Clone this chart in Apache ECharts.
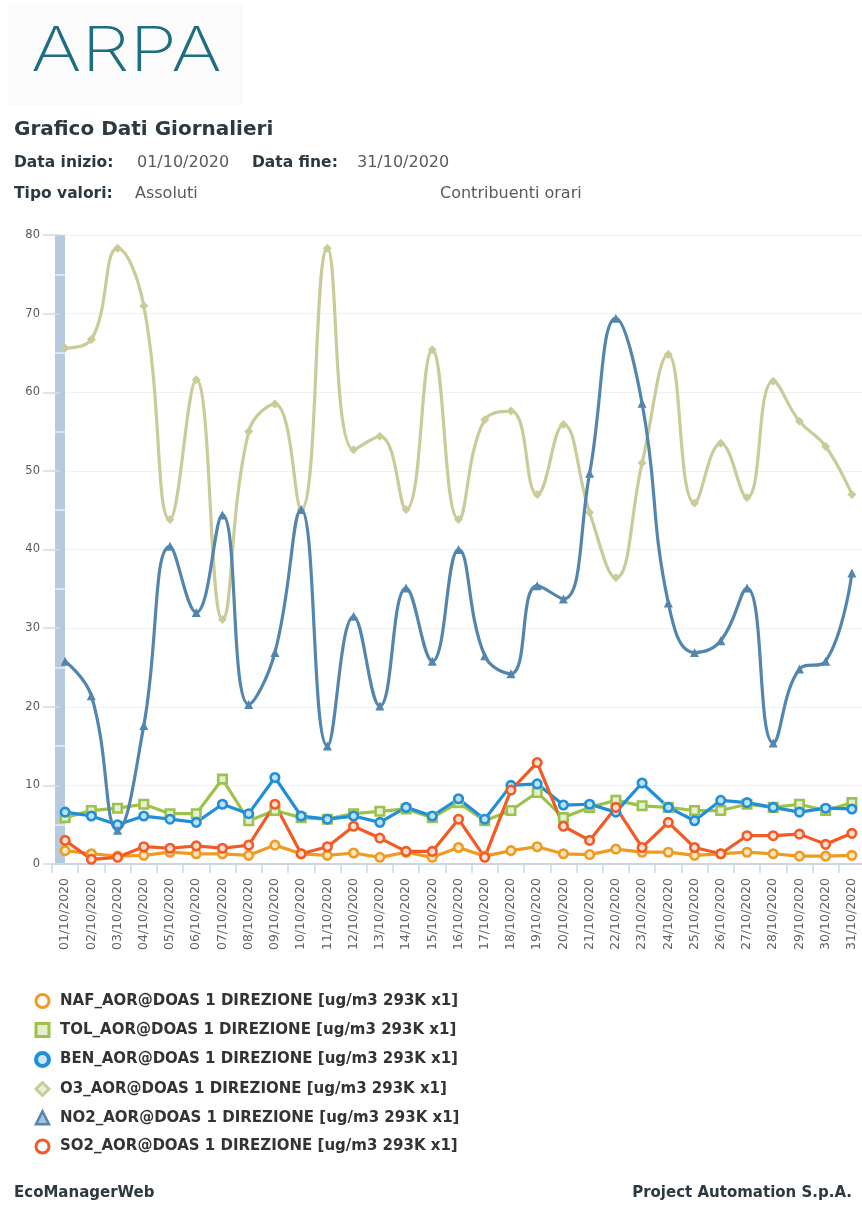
<!DOCTYPE html>
<html>
<head>
<meta charset="utf-8">
<script src="https://cdn.jsdelivr.net/npm/echarts@6/dist/echarts.min.js"></script>
<style>
html,body{margin:0;padding:0;background:#fff;overflow:hidden;}
#c{width:870px;height:1205px;}
</style>
</head>
<body>
<div id="c"></div>
<script>
const categories = ['01/10/2020','02/10/2020','03/10/2020','04/10/2020','05/10/2020','06/10/2020','07/10/2020','08/10/2020','09/10/2020','10/10/2020',
  '11/10/2020','12/10/2020','13/10/2020','14/10/2020','15/10/2020','16/10/2020','17/10/2020','18/10/2020','19/10/2020','20/10/2020',
  '21/10/2020','22/10/2020','23/10/2020','24/10/2020','25/10/2020','26/10/2020','27/10/2020','28/10/2020','29/10/2020','30/10/2020','31/10/2020'];

const NAF = [1.7,1.3,1.0,1.1,1.5,1.3,1.3,1.1,2.4,1.3, 1.1,1.4,0.85,1.5,0.85,2.1,1.0,1.7,2.2,1.3, 1.2,1.9,1.5,1.5,1.1,1.3,1.5,1.3,1.0,1.0,1.1];
const TOL = [5.9,6.8,7.1,7.6,6.4,6.4,10.8,5.5,6.8,5.9, 5.7,6.4,6.7,7.0,5.9,7.8,5.5,6.8,9.1,5.9, 7.2,8.1,7.4,7.2,6.8,6.8,7.6,7.2,7.6,6.8,7.8];
const BEN = [6.6,6.1,5.0,6.1,5.7,5.3,7.6,6.4,11.0,6.1, 5.7,6.1,5.3,7.2,6.1,8.3,5.7,10.0,10.2,7.5, 7.6,6.6,10.3,7.2,5.5,8.1,7.8,7.2,6.6,7.1,7.0];
const O3  = [65.6,66.7,78.3,71.0,43.8,61.6,31.1,55.0,58.5,45.1, 78.3,52.7,54.4,45.1,65.4,43.8,56.5,57.6,47.0,55.9, 44.7,36.4,51.0,64.8,45.9,53.5,46.6,61.4,56.3,53.1,47.0];
const NO2 = [25.8,21.4,4.3,17.6,40.4,32.0,44.4,20.3,26.9,45.1, 15.0,31.5,20.1,35.1,25.8,40.0,26.5,24.2,35.4,33.7, 49.7,69.4,58.6,33.2,26.9,28.4,35.1,15.4,24.8,25.8,37.0];
const SO2 = [3.0,0.6,0.85,2.2,2.0,2.3,2.0,2.4,7.6,1.3, 2.2,4.8,3.3,1.6,1.6,5.7,0.85,9.4,12.9,4.8, 3.0,7.2,2.1,5.3,2.1,1.3,3.6,3.6,3.8,2.5,3.9];

const seriesNames = [
  'NAF_AOR@DOAS 1 DIREZIONE [ug/m3 293K x1]',
  'TOL_AOR@DOAS 1 DIREZIONE [ug/m3 293K x1]',
  'BEN_AOR@DOAS 1 DIREZIONE [ug/m3 293K x1]',
  'O3_AOR@DOAS 1 DIREZIONE [ug/m3 293K x1]',
  'NO2_AOR@DOAS 1 DIREZIONE [ug/m3 293K x1]',
  'SO2_AOR@DOAS 1 DIREZIONE [ug/m3 293K x1]'
];
const minorTickValues = [5,15,25,35,45,55,65,75];

const C = {
  naf:'#ef9b22', tol:'#9dc24c', ben:'#1f8fd8', o3:'#c9cc99', no2:'#5286ae', so2:'#f25a26'
};
const FONT = 'DejaVu Sans';

const chart = echarts.init(document.getElementById('c'), null, {renderer:'canvas'});

function lowSeries(name, data, color, symbol, fill) {
  return {
    name, type:'line', data, symbol, symbolSize: 8.5,
    lineStyle:{color, width:3.2},
    itemStyle:{color: fill, borderColor: color, borderWidth: 2.6},
    emphasis:{disabled:true}, z: 3
  };
}

const option = {
  animation:false,
  backgroundColor:'#ffffff',
  textStyle:{fontFamily: FONT},
  grid:{left:52, right:5, top:235, height:629, containLabel:false},
  xAxis:{
    type:'category', data: categories, boundaryGap:true,
    axisLine:{show:true, lineStyle:{color:'#cdd6e0', width:2}},
    axisTick:{show:true, length:9, lineStyle:{color:'#cdd6e0', width:1.5}},
    axisLabel:{rotate:90, fontSize:12.5, color:'#606060', margin:14, interval:0, fontFamily: FONT},
    splitLine:{show:false}
  },
  yAxis:[{
    type:'value', min:0, max:80, interval:10, offset:-8,
    axisLine:{show:true, lineStyle:{color:'#b6cadf', width:10, cap:'butt'}},
    axisTick:{show:true, length:17, lineStyle:{color:'#d3dce6', width:1.5}},
    axisLabel:{fontSize:11.5, color:'#5a5a5a', margin:20, fontFamily: FONT},
    splitLine:{show:true, lineStyle:{color:'#f1f1f1', width:1}}
  },{
    type:'value', min:0, max:80, interval:10, offset:-3, position:'left',
    axisLine:{show:false},
    axisTick:{show:true, inside:true, length:10, customValues:minorTickValues, lineStyle:{color:'#e6eef6', width:1.5}},
    axisLabel:{show:false},
    splitLine:{show:false}
  }],
  legend:{
    orient:'vertical', left:29, top:988, itemGap:13, itemWidth:13, itemHeight:13,
    selectedMode:false,
    textStyle:{fontFamily: FONT, fontWeight:'bold', fontSize:15, color:'#333', padding:[0,0,0,6]},
    data:[
      {name:seriesNames[0], icon:'circle', itemStyle:{color:'#fff', borderColor:C.naf, borderWidth:3}},
      {name:seriesNames[1], icon:'rect', itemStyle:{color:'#e3efcf', borderColor:C.tol, borderWidth:3}},
      {name:seriesNames[2], icon:'circle', itemStyle:{color:'#cfe5f6', borderColor:C.ben, borderWidth:4}},
      {name:seriesNames[3], icon:'diamond', itemStyle:{color:'#eceedd', borderColor:C.o3, borderWidth:3}},
      {name:seriesNames[4], icon:'triangle', itemStyle:{color:'#a8c2d8', borderColor:C.no2, borderWidth:2.5}},
      {name:seriesNames[5], icon:'circle', itemStyle:{color:'#fff', borderColor:C.so2, borderWidth:3}}
    ]
  },
  series:[
    lowSeries(seriesNames[0], NAF, C.naf, 'circle', '#fbe6c4'),
    lowSeries(seriesNames[1], TOL, C.tol, 'rect', '#e6f0d4'),
    lowSeries(seriesNames[2], BEN, C.ben, 'circle', '#bfe0f6'),
    {
      name: seriesNames[3], type:'line', data:O3, smooth:0.45, symbol:'diamond', symbolSize:9,
      lineStyle:{color:C.o3, width:3.2}, itemStyle:{color:C.o3}, emphasis:{disabled:true}, z:2
    },
    {
      name: seriesNames[4], type:'line', data:NO2, smooth:0.45, symbol:'triangle', symbolSize:9,
      lineStyle:{color:C.no2, width:3.2}, itemStyle:{color:C.no2}, emphasis:{disabled:true}, z:3
    },
    lowSeries(seriesNames[5], SO2, C.so2, 'circle', '#fde0d4')
  ],
  graphic:[
    {type:'rect', left:8, top:4, shape:{width:235, height:102}, style:{fill:'#fbfbfb'}, silent:true},
    {type:'text', x:31, y:21, scaleX:1.24, scaleY:1.0, style:{text:'ARPA', font:'200 62px Inter', fill:'#1f6d80'}},
    {type:'text', left:14, top:120, style:{text:'Grafico Dati Giornalieri', font:'bold 20px "DejaVu Sans"', fill:'#2c3940'}},
    {type:'text', left:14, top:155, style:{text:'Data inizio:', font:'bold 15.5px "DejaVu Sans"', fill:'#2c3940'}},
    {type:'text', left:137, top:155, style:{text:'01/10/2020', font:'16px "DejaVu Sans"', fill:'#5a5a5a'}},
    {type:'text', left:252, top:155, style:{text:'Data fine:', font:'bold 15.5px "DejaVu Sans"', fill:'#2c3940'}},
    {type:'text', left:357, top:155, style:{text:'31/10/2020', font:'16px "DejaVu Sans"', fill:'#5a5a5a'}},
    {type:'text', left:14, top:186, style:{text:'Tipo valori:', font:'bold 15.5px "DejaVu Sans"', fill:'#2c3940'}},
    {type:'text', left:135, top:186, style:{text:'Assoluti', font:'16px "DejaVu Sans"', fill:'#5a5a5a'}},
    {type:'text', left:440, top:186, style:{text:'Contribuenti orari', font:'16px "DejaVu Sans"', fill:'#5a5a5a'}},
    {type:'text', left:14, top:1186, style:{text:'EcoManagerWeb', font:'bold 15px "DejaVu Sans"', fill:'#2c3940'}},
    {type:'text', right:18, top:1186, style:{text:'Project Automation S.p.A.', font:'bold 15px "DejaVu Sans"', fill:'#2c3940'}}
  ]
};
chart.setOption(option);
</script>
</body>
</html>
